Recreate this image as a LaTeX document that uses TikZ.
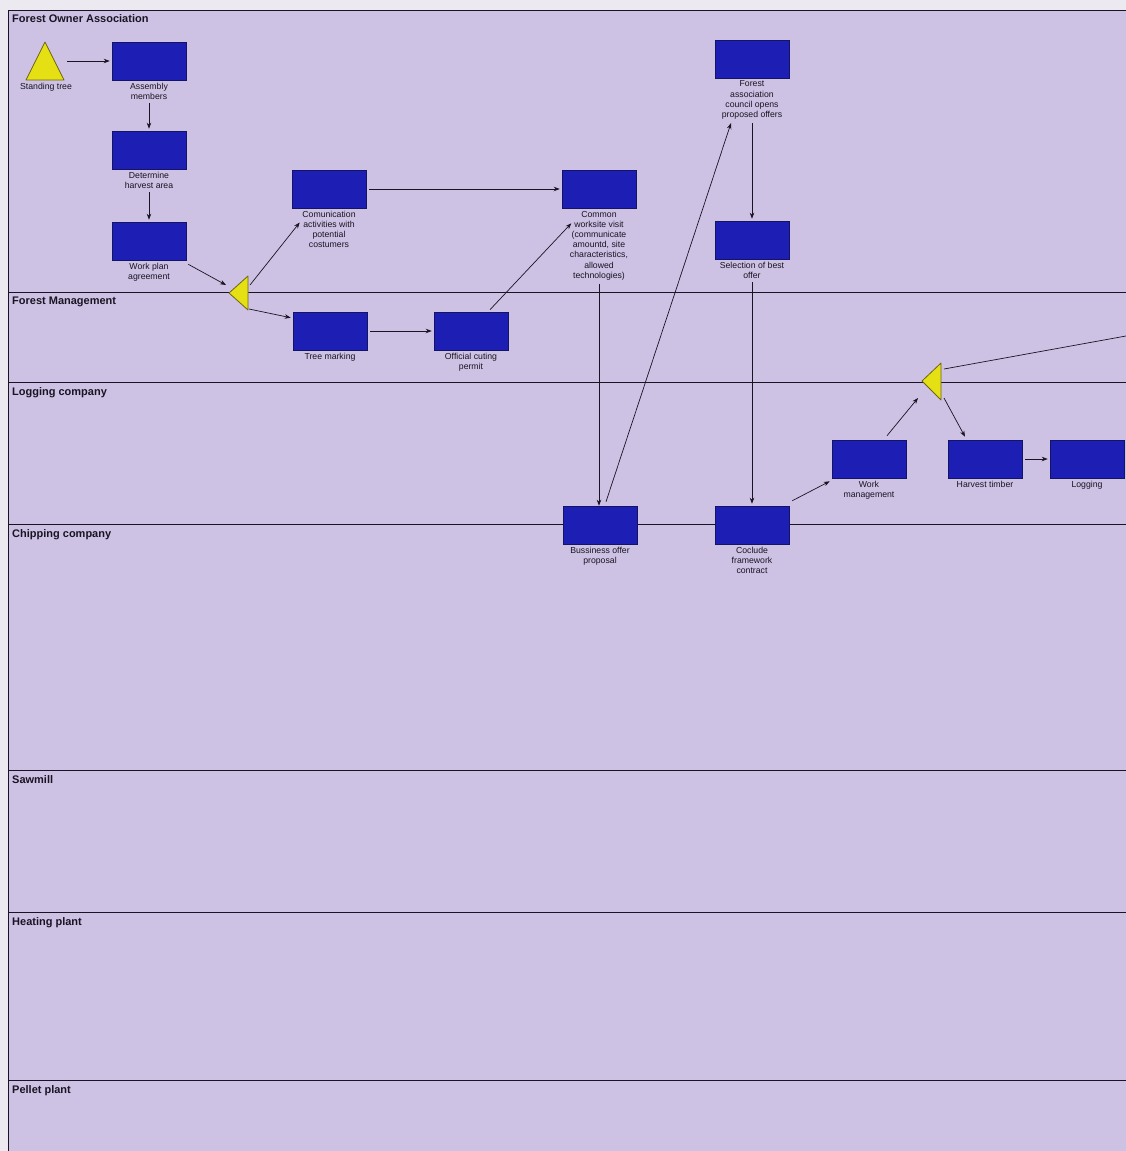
\documentclass[tikz,border=0pt]{standalone}
\usepackage{fontspec}
\setmainfont{Liberation Sans}
\usetikzlibrary{arrows.meta}
\definecolor{lane}{RGB}{205,194,227}
\definecolor{paper}{RGB}{236,234,240}
\definecolor{boxfill}{RGB}{28,30,180}
\definecolor{boxline}{RGB}{20,20,100}
\definecolor{gold}{RGB}{228,224,20}
\definecolor{goldline}{RGB}{110,100,20}
\definecolor{ink}{RGB}{25,20,35}
\begin{document}
\begin{tikzpicture}[x=1pt,y=-1pt,
 task/.style={draw=boxline, fill=boxfill, minimum width=74pt, minimum height=38pt, inner sep=0pt, line width=0.6pt},
 lbl/.style={font=\fontsize{8.7}{10.2}\selectfont, align=center, inner sep=0.5pt, anchor=north, text=ink},
 lanelbl/.style={font=\bfseries\fontsize{11}{13}\selectfont, anchor=north west, inner sep=0pt, text=ink},
 arr/.style={draw=ink, line width=0.7pt, -{Stealth[length=6pt,width=4.5pt]}},
 plain/.style={draw=ink, line width=0.7pt},
 gate/.style={draw=goldline, fill=gold, line width=0.8pt, line join=round},
 laneline/.style={draw=ink, line width=0.9pt}]
\fill[paper] (0,0) rectangle (1126,1151);
\useasboundingbox (0,0) rectangle (1126,1151);
\fill[lane] (8,10) rectangle (1126,1151);
% lanes
\foreach \yy in {10,292,382,524,770,912,1080} {\draw[laneline] (8,\yy) -- (1126,\yy);}
\draw[laneline] (8,10) -- (8,1151);
\node[lanelbl] (l1) at (12,14) {Forest Owner Association};
\node[lanelbl] (l2) at (12,297) {Forest Management};
\node[lanelbl] (l3) at (12,387) {Logging company};
\node[lanelbl] (l4) at (12,529) {Chipping company};
\node[lanelbl] (l5) at (12,775) {Sawmill};
\node[lanelbl] (l6) at (12,917) {Heating plant};
\node[lanelbl] (l7) at (12,1085) {Pellet plant};
% standing tree
\draw[gate] (45,42) -- (64,80) -- (26,80) -- cycle;
\coordinate (st) at (45,61);
\node[lbl] (stl) at (46,82) {Standing tree};
% gateways
\draw[gate] (229,293) -- (248,276) -- (248,310) -- cycle;
\coordinate (g1w) at (229,293);
\coordinate (g1ne) at (248,276);
\coordinate (g1se) at (248,310);
\draw[gate] (922,381) -- (941,363) -- (941,400) -- cycle;
\coordinate (g2w) at (922,381);
\coordinate (g2ne) at (941,363);
\coordinate (g2se) at (941,400);
% tasks
\node[task] (am) at (149,61) {};
\node[lbl] (aml) at ([yshift=-2pt]am.south) {Assembly\\members};
\node[task] (dh) at (149,150) {};
\node[lbl] (dhl) at ([yshift=-2pt]dh.south) {Determine\\harvest area};
\node[task] (wp) at (149,241) {};
\node[lbl] (wpl) at ([yshift=-2pt]wp.south) {Work plan\\agreement};
\node[task] (cm) at (329,189) {};
\node[lbl] (cml) at ([yshift=-2pt]cm.south) {Comunication\\activities with\\potential\\costumers};
\node[task] (cv) at (599,189) {};
\node[lbl] (cvl) at ([yshift=-2pt]cv.south) {Common\\worksite visit\\(communicate\\amountd, site\\characteristics,\\allowed\\technologies)};
\node[task] (fa) at (752,59) {};
\node[lbl] (fal) at ([yshift=-2pt]fa.south) {Forest\\association\\council opens\\proposed offers};
\node[task] (sb) at (752,240) {};
\node[lbl] (sbl) at ([yshift=-2pt]sb.south) {Selection of best\\offer};
\node[task] (tm) at (330,331) {};
\node[lbl] (tml) at ([yshift=-2pt]tm.south) {Tree marking};
\node[task] (op) at (471,331) {};
\node[lbl] (opl) at ([yshift=-2pt]op.south) {Official cuting\\permit};
\node[task] (bo) at (600,525) {};
\node[lbl] (bol) at ([yshift=-2pt]bo.south) {Bussiness offer\\proposal};
\node[task] (cf) at (752,525) {};
\node[lbl] (cfl) at ([yshift=-2pt]cf.south) {Coclude\\framework\\contract};
\node[task] (wm) at (869,459) {};
\node[lbl] (wml) at ([yshift=-2pt]wm.south) {Work\\management};
\node[task] (ht) at (985,459) {};
\node[lbl] (htl) at ([yshift=-2pt]ht.south) {Harvest timber};
\node[task] (lg) at (1087,459) {};
\node[lbl] (lgl) at ([yshift=-2pt]lg.south) {Logging};
\coordinate (rin) at (1126,336);
% connectors
\draw[arr] ([xshift=22pt]st) -- ([xshift=-2pt]am.west);
\draw[arr] ([yshift=-3pt]aml.south) -- ([yshift=2pt]dh.north);
\draw[arr] ([yshift=-3pt]dhl.south) -- ([yshift=2pt]wp.north);
\draw[arr] ([shift={(2,4)}]wp.south east) -- ([shift={(-3,-8)}]g1w);
\draw[arr] ([shift={(2,9)}]g1ne) -- ([shift={(-2,-7)}]cml.west);
\draw[arr] ([shift={(1,-1)}]g1se) -- ([shift={(-2,6)}]tm.north west);
\draw[arr] ([xshift=3pt]cm.east) -- ([xshift=-2pt]cv.west);
\draw[arr] ([xshift=3pt]tm.east) -- ([xshift=-2pt]op.west);
\draw[arr] ([shift={(19,-2)}]op.north) -- ([shift={(2,13)}]cvl.north west);
\draw[arr] ([yshift=-3pt]cvl.south) -- (cvl.south |- bo.north);
\draw[arr] ([shift={(6,-4)}]bo.north) -- ([shift={(-21,3)}]fal.south);
\draw[arr] ([yshift=-3pt]fal.south) -- ([yshift=2pt]sb.north);
\draw[arr] ([yshift=-3pt]sbl.south) -- ([yshift=2pt]sbl.south |- cf.north);
\draw[arr] ([shift={(3,-5)}]cf.north east) -- ([shift={(-2,3)}]wm.south west);
\draw[arr] ([shift={(18,-4)}]wm.north) -- ([shift={(-4,17)}]g2w);
\draw[arr] ([shift={(3,-2)}]g2se) -- ([shift={(-20,-3)}]ht.north);
\draw[arr] ([xshift=3pt]ht.east) -- ([xshift=-2pt]lg.west);
\draw[plain] (rin) -- ([shift={(3,6)}]g2ne);
\end{tikzpicture}
\end{document}
